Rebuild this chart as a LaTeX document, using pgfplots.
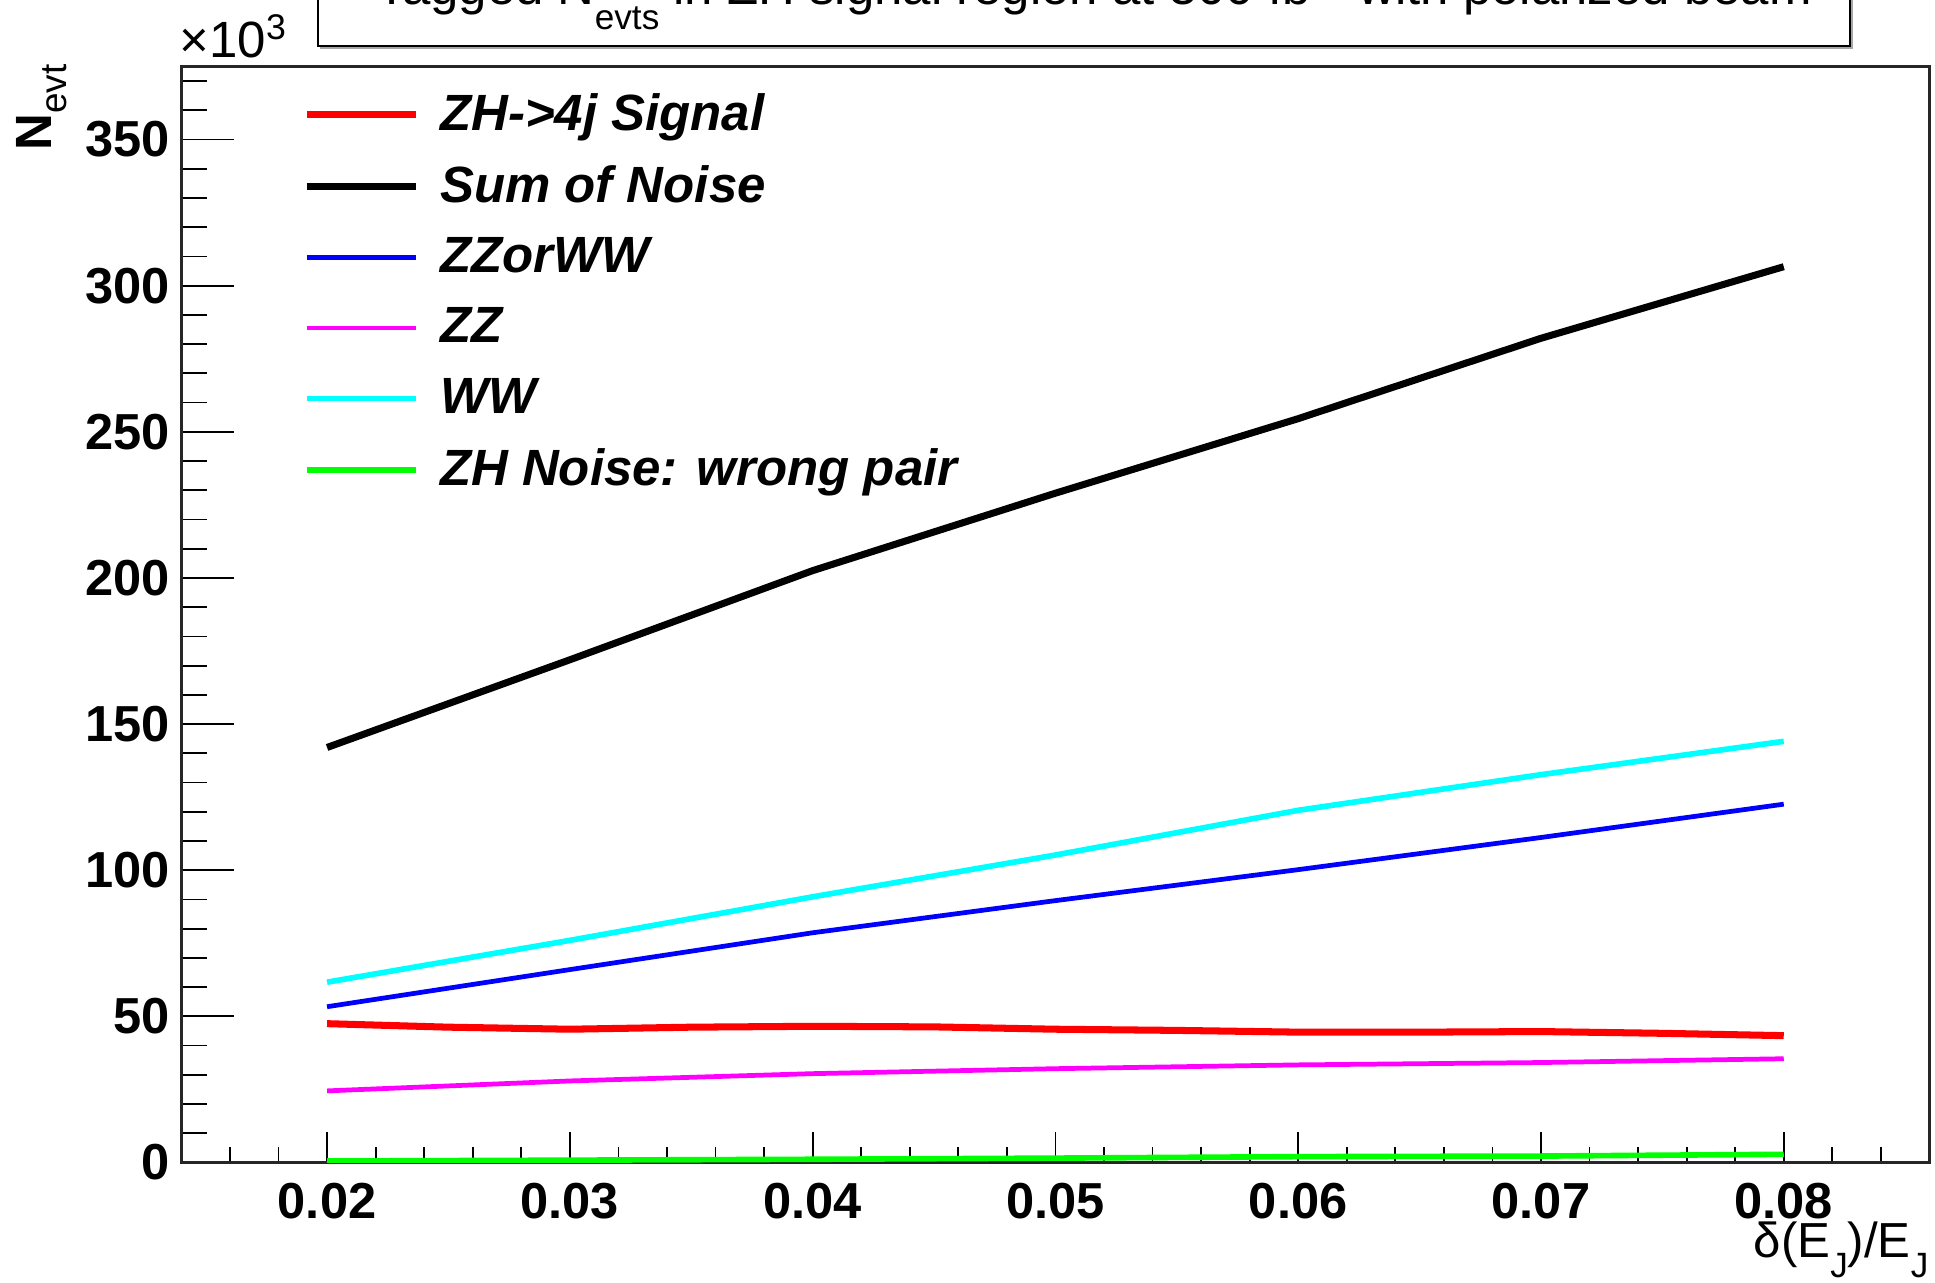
\documentclass[border=0pt]{standalone}
\usepackage{pgfplots}
\pgfplotsset{compat=1.18}
\usepackage{fontspec}
\setmainfont{Liberation Sans}

\definecolor{rootred}{RGB}{255,0,0}
\definecolor{rootblue}{RGB}{0,0,255}
\definecolor{rootmagenta}{RGB}{255,0,255}
\definecolor{rootcyan}{RGB}{0,255,255}
\definecolor{rootgreen}{RGB}{0,255,0}

\newcommand\tickfont{\fontsize{14.4}{16}\selectfont\bfseries}
\newcommand\legfont{\fontsize{14.5}{16}\selectfont\bfseries\itshape}

% event counts in units of 10^3
\pgfplotstableread{
x      sig
0.020  47.5
0.025  46.3
0.030  45.6
0.035  46.3
0.040  46.6
0.045  46.4
0.050  45.6
0.055  45.2
0.060  44.6
0.065  44.6
0.070  44.8
0.075  44.2
0.080  43.4
}\signal

\pgfplotstableread{
x      sum    zzww   zz    ww     wrong
0.020  142.0  53.3   24.5  61.7   0.5
0.030  172.0  66.0   27.9  76.0   0.8
0.040  202.5  78.6   30.4  90.9   1.1
0.050  229.0  89.6   32.1  105.2  1.5
0.060  254.5  100.2  33.4  120.5  2.0
0.070  282.0  111.2  34.2  132.7  2.2
0.080  306.5  122.6  35.5  144.1  2.8
}\noise

\begin{document}
\begin{tikzpicture}[x=1cm,y=1cm]
\clip (0,0) rectangle (19.35,12.82);

% title pad
\draw[gray!70, line width=0.6pt] (3.20,12.345) -- (18.52,12.345) -- (18.52,13.2);
\draw[black, line width=0.5pt, fill=white] (3.18,12.363) rectangle (18.50,13.2);
\node[anchor=base west, inner sep=0pt] at (3.76,12.77)
  {\fontsize{14.5}{14.5}\selectfont Tagged N\raisebox{-0.25cm}{\fontsize{10}{10}\selectfont evts} in ZH signal region at 500 fb\textsuperscript{-1} with polarized beam};

\begin{axis}[
  at={(1.814cm,1.195cm)}, anchor=south west,
  scale only axis, width=17.48cm, height=10.96cm,
  xmin=0.014, xmax=0.086, ymin=0, ymax=375,
  axis line style={line width=0.7pt, black!85},
  tick pos=left, tick align=inside,
  xtick={0.02,0.03,0.04,0.05,0.06,0.07,0.08},
  minor xtick={0.016,0.018,0.022,0.024,0.026,0.028,0.032,0.034,0.036,0.038,
               0.042,0.044,0.046,0.048,0.052,0.054,0.056,0.058,
               0.062,0.064,0.066,0.068,0.072,0.074,0.076,0.078,0.082,0.084},
  ytick={0,50,...,350},
  minor ytick={0,10,...,370},
  scaled x ticks=false, scaled y ticks=false,
  major tick length=0.53cm, minor tick length=0.26cm,
  xtick style={/pgfplots/major tick length=0.30cm, /pgfplots/minor tick length=0.15cm},
  every tick/.style={black, line width=0.5pt},
  /pgf/number format/assume math mode=true,
  xticklabel style={font=\tickfont, inner sep=0pt, anchor=north, yshift=-0.20cm,
    /pgf/number format/fixed, /pgf/number format/fixed zerofill, /pgf/number format/precision=2},
  yticklabel style={font=\tickfont, inner sep=0pt, anchor=east, xshift=-0.11cm},
  legend cell align=left,
  legend image code/.code={\draw[#1] (0cm,0cm) -- (1.09cm,0cm);},
  legend style={at={(rel axis cs:0,1)}, anchor=north west, xshift=1.21cm, yshift=-0.26cm,
    draw=none, fill=none, font=\legfont, row sep=0.30cm, inner sep=0pt,
    nodes={inner sep=0pt}, column sep=0.21cm},
]
\addplot[rootred, line width=2.0pt] table[x=x, y=sig] {\signal};
\addlegendentry{ZH->4j Signal}
\addplot[black, line width=2.0pt] table[x=x, y=sum] {\noise};
\addlegendentry{Sum of Noise}
\addplot[rootblue, line width=1.35pt] table[x=x, y=zzww] {\noise};
\addlegendentry{ZZorWW}
\addplot[rootmagenta, line width=1.35pt] table[x=x, y=zz] {\noise};
\addlegendentry{ZZ}
\addplot[rootcyan, line width=1.6pt] table[x=x, y=ww] {\noise};
\addlegendentry{WW}
\addplot[rootgreen, line width=1.6pt] table[x=x, y=wrong] {\noise};
\addlegendentry{ZH Noise: wrong pair}
\end{axis}

% axis scale and titles
\node[anchor=base west, inner sep=0pt] at (1.79,12.24)
  {\fontsize{14.5}{14.5}\selectfont ×10\textsuperscript{3}};
\node[rotate=90, anchor=north east, inner sep=0pt] at (0.16,12.18)
  {\fontsize{14.5}{14.5}\selectfont\textbf{N}\raisebox{-0.15cm}{\fontsize{10.5}{10.5}\selectfont evt}};
\node[anchor=base east, inner sep=0pt] at (19.29,0.25)
  {\fontsize{14}{14}\selectfont δ(E\raisebox{-0.2cm}{\fontsize{10}{10}\selectfont J})/E\raisebox{-0.2cm}{\fontsize{10}{10}\selectfont J}};
\end{tikzpicture}
\end{document}
